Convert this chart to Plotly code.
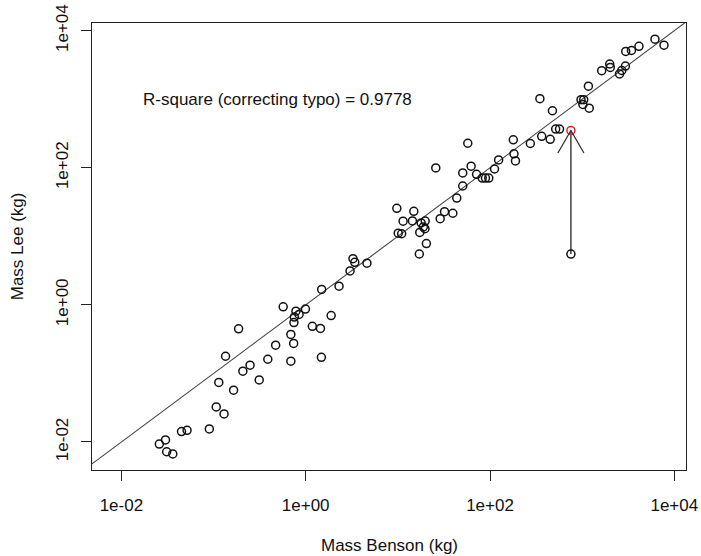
import math
import plotly.graph_objects as go

# Data (kg)
benson_kg = [0.0258, 0.0301, 0.0310, 0.0361, 0.0449, 0.0516, 0.090, 0.107, 0.130, 0.114,
             0.165, 0.135, 0.187, 0.208, 0.249, 0.313, 0.388, 0.472, 0.690, 0.740,
             0.690, 0.570, 0.745, 0.753, 0.783, 0.847, 0.993, 1.18, 1.445, 1.48,
             1.49, 1.89, 2.30, 3.03, 3.26, 3.41, 4.62, 10.1, 11.0, 9.75,
             11.4, 14.9, 14.4, 17.9, 19.8, 18.9, 19.7, 17.3, 20.4, 17.1,
             28.8, 32.1, 39.5, 43.6, 25.8, 50.6, 50.6, 62.4, 71.5, 82.4,
             89.3, 97.0, 112, 124, 57.4, 179, 182, 189, 274, 364,
             450, 516, 568, 476, 348, 972, 1040, 1019, 1194, 1169,
             1630, 1991, 2018, 2547, 2692, 2951, 2972, 3428, 4140, 6166, 7727]
lee_kg = [0.0093, 0.0107, 0.0072, 0.0067, 0.0142, 0.0148, 0.0155, 0.0324, 0.0256, 0.0739,
          0.0569, 0.178, 0.447, 0.108, 0.132, 0.0804, 0.161, 0.258, 0.371, 0.274,
          0.151, 0.935, 0.552, 0.664, 0.809, 0.724, 0.868, 0.487, 0.454, 0.172,
          1.68, 0.698, 1.875, 3.13, 4.72, 4.17, 4.06, 11.1, 10.9, 25.6,
          16.6, 23.2, 16.8, 15.7, 16.7, 13.7, 12.9, 11.4, 7.85, 5.52,
          18.1, 22.9, 21.7, 36.1, 99.3, 54.2, 84.0, 105.5, 80.4, 70.8,
          70.8, 70.8, 96.0, 130, 228, 256, 160, 126, 226, 288,
          260, 367, 367, 679, 1017, 984, 984, 840, 739, 1549,
          2606, 3266, 2911, 2340, 2624, 3041, 4988, 5140, 5902, 7516, 6141]
assert len(benson_kg) == len(lee_kg)

typo_benson = 755
typo_lee = 5.5
corrected_lee = 350

tick_vals = [0.01, 1, 100, 10000]
tick_text = ["1e-02", "1e+00", "1e+02", "1e+04"]

label_text = "R-square (correcting typo) = 0.9778"
label_x, label_y = 0.5, 1000

x_range = [-2.319, 4.127]
y_range = [-2.409, 4.112]

FONT = "Liberation Sans, Arial, Helvetica, sans-serif"
FS = 17
INK = "#222222"

fig = go.Figure()

# y = x reference line
fig.add_trace(go.Scatter(x=[1e-4, 1e6], y=[1e-4, 1e6], mode="lines",
                         line=dict(color="#444444", width=1.1), hoverinfo="skip"))

# arrow shaft from typo point to corrected point
fig.add_trace(go.Scatter(x=[typo_benson, typo_benson], y=[typo_lee, corrected_lee], mode="lines",
                         line=dict(color="#333333", width=1.4), hoverinfo="skip"))

# data points
fig.add_trace(go.Scatter(x=benson_kg + [typo_benson], y=lee_kg + [typo_lee], mode="markers",
                         marker=dict(symbol="circle-open", size=8, color="#111111",
                                     line=dict(width=1.5, color="#111111"))))

# corrected point in red
fig.add_trace(go.Scatter(x=[typo_benson], y=[corrected_lee], mode="markers",
                         marker=dict(symbol="circle-open", size=8, color="#e8202a",
                                     line=dict(width=1.5, color="#e8202a"))))

# arrowhead (pixel-sized, anchored at the corrected point)
fig.add_shape(type="path", xref="x", yref="y", xsizemode="pixel", ysizemode="pixel",
              xanchor=typo_benson, yanchor=corrected_lee,
              path="M-13,-22.5 L0,0 L13,-22.5",
              line=dict(color="#333333", width=1.3))

fig.add_annotation(x=math.log10(label_x), y=math.log10(label_y), xref="x", yref="y",
                   text=label_text, showarrow=False,
                   font=dict(family=FONT, size=FS, color="#111111"))

# axis titles
fig.add_annotation(x=0.5, y=-0.168, xref="paper", yref="paper", text="Mass Benson (kg)",
                   showarrow=False, font=dict(family=FONT, size=FS, color="#111111"),
                   xanchor="center", yanchor="middle")
fig.add_annotation(x=-0.125, y=0.5, xref="paper", yref="paper", text="Mass Lee (kg)",
                   showarrow=False, textangle=-90,
                   font=dict(family=FONT, size=FS, color="#111111"),
                   xanchor="center", yanchor="middle")

axis_common = dict(type="log", showgrid=False, zeroline=False, showline=True, mirror=True,
                   linecolor=INK, linewidth=1.2, ticks="outside", ticklen=10, tickwidth=1.1,
                   tickcolor=INK, tickvals=tick_vals, ticktext=tick_text, automargin=False,
                   tickfont=dict(family=FONT, size=FS, color="#111111"))

fig.update_layout(
    width=701, height=556,
    margin=dict(l=92, r=15, t=23, b=86, autoexpand=False),
    paper_bgcolor="white", plot_bgcolor="white",
    showlegend=False,
    xaxis=dict(range=x_range, ticklabelstandoff=9, **axis_common),
    yaxis=dict(range=y_range, tickangle=-90, ticklabelstandoff=6, **axis_common),
)

fig.write_html("out.html", config={"displayModeBar": False},
               post_script="document.body.style.margin='0';document.body.style.overflow='hidden';")
